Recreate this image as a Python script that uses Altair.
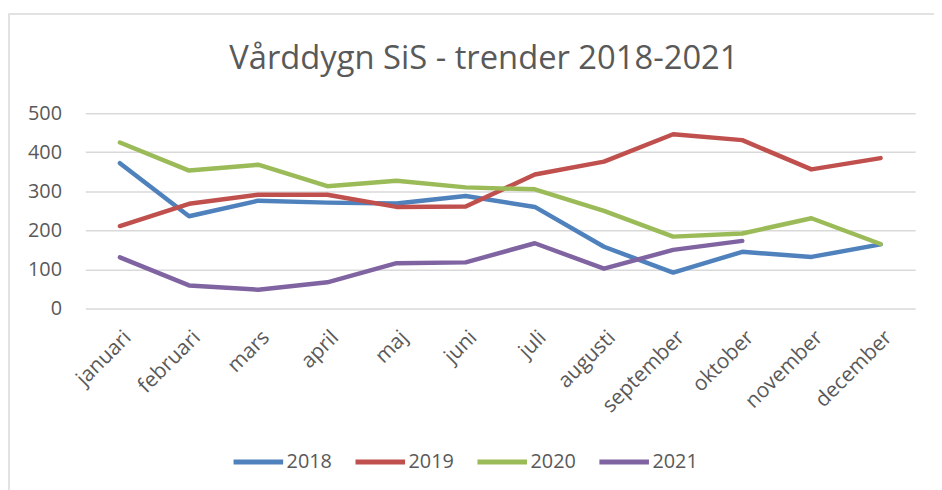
import altair as alt
import pandas as pd

months = ["januari", "februari", "mars", "april", "maj", "juni", "juli",
          "augusti", "september", "oktober", "november", "december"]
v2018 = [372, 236, 276, 271, 269, 288, 260, 158, 92, 145, 132, 164]
v2019 = [211, 268, 291, 291, 260, 261, 343, 376, 446, 431, 356, 385]
v2020 = [425, 353, 368, 313, 327, 310, 305, 250, 184, 192, 231, 165]
v2021 = [131, 59, 48, 67, 116, 118, 167, 102, 150, 173]
series = ["2018", "2019", "2020", "2021"]
colors = ["#4f81bd", "#c0504d", "#9bbb59", "#8064a2"]
title_text = "Vårddygn SiS - trender 2018-2021"

rows = []
for name, vals in zip(series, [v2018, v2019, v2020, v2021]):
    for i, v in enumerate(vals):
        rows.append({"month": months[i], "year": name, "value": v, "order": i})
df = pd.DataFrame(rows)

FONT = "Open Sans"
GRAY = "#595959"

border = alt.Chart(pd.DataFrame({"a": [0]})).mark_rect(
    fill="white", fillOpacity=0, stroke="#d9d9d9", strokeWidth=1.5, clip=False
).encode(
    x=alt.value(-77), x2=alt.value(900), y=alt.value(-100), y2=alt.value(420)
)

title = alt.Chart(pd.DataFrame({"t": [title_text]})).mark_text(
    font=FONT, fontSize=33, color=GRAY, align="center", baseline="middle", clip=False
).encode(text="t:N", x=alt.value(402), y=alt.value(-55))

lines = alt.Chart(df).mark_line(strokeWidth=4.5, strokeCap="round", strokeJoin="round").encode(
    x=alt.X("month:N", sort=months, scale=alt.Scale(paddingInner=0, paddingOuter=0.5),
            axis=alt.Axis(title=None, labelAngle=-45, labelFontSize=21, labelColor=GRAY,
                          labelFont=FONT, ticks=False, domain=False, grid=False,
                          labelPadding=18)),
    y=alt.Y("value:Q", scale=alt.Scale(domain=[0, 500], nice=False),
            axis=alt.Axis(title=None, values=[0, 100, 200, 300, 400, 500],
                          labelFontSize=20, labelColor=GRAY, labelFont=FONT,
                          ticks=False, domain=False, gridColor="#d9d9d9",
                          gridWidth=1.5, labelPadding=24)),
    color=alt.Color("year:N", scale=alt.Scale(domain=series, range=colors),
                    legend=alt.Legend(title=None, orient="none", direction="horizontal",
                                      legendX=147, legendY=324, symbolType="stroke",
                                      symbolSize=2500, symbolStrokeWidth=5,
                                      labelFontSize=20, labelColor=GRAY, labelFont=FONT,
                                      labelOffset=1, columnPadding=13)),
    order="order:Q",
)

chart = alt.layer(border, title, lines).properties(
    width=837, height=197,
    autosize=alt.AutoSizeParams(type="none"),
    padding={"left": 78, "top": 104, "right": 19, "bottom": 181},
).configure_view(stroke=None)

chart.save("out.html", embed_options={"renderer": "svg", "actions": False})
